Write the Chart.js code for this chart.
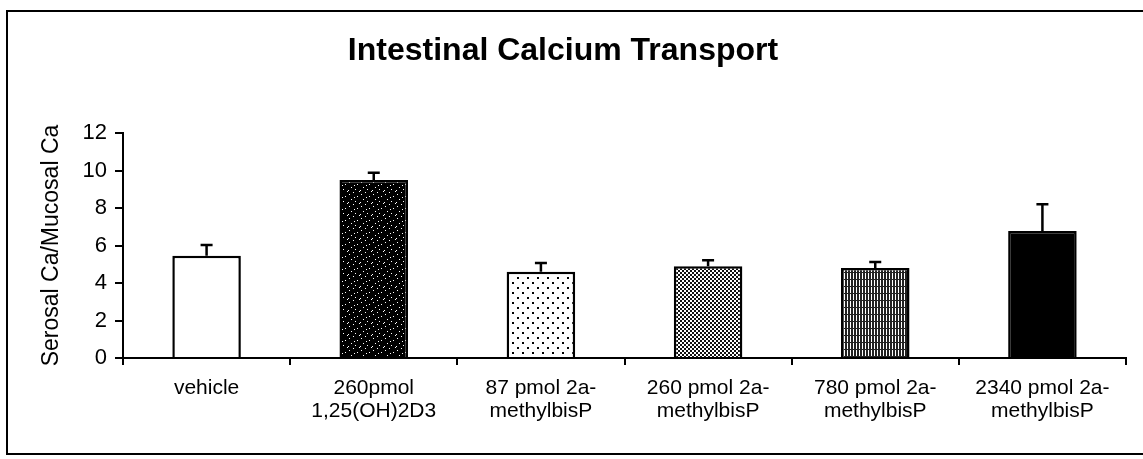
<!DOCTYPE html>
<html>
<head>
<meta charset="utf-8">
<script src="https://cdn.jsdelivr.net/npm/chart.js@4"></script>
<style>
    html, body { margin: 0; padding: 0; background: #fff; }
    #wrap { width: 1143px; height: 459px; }
</style>
</head>
<body>
<div id="wrap"><canvas id="chart"></canvas></div>
<script>
// Data
const categories = [
    ['vehicle'],
    ['260pmol', '1,25(OH)2D3'],
    ['87 pmol 2a-', 'methylbisP'],
    ['260 pmol 2a-', 'methylbisP'],
    ['780 pmol 2a-', 'methylbisP'],
    ['2340 pmol 2a-', 'methylbisP']
];
const transportValues = [5.45, 9.5, 4.6, 4.9, 4.8, 6.77];
const transportErrors = [0.58, 0.38, 0.47, 0.32, 0.32, 1.43];
const yMin = 0;
const yMax = 12;
const yStep = 2;

const FONT = '"Liberation Sans", Arial, Helvetica, sans-serif';
const canvas = document.getElementById('chart');
const mainCtx = canvas.getContext('2d');

function makePattern(w, h, draw) {
    const c = document.createElement('canvas');
    c.width = w;
    c.height = h;
    const g = c.getContext('2d');
    draw(g, w, h);
    return mainCtx.createPattern(c, 'repeat');
}

// speckled black
const speckle = makePattern(12, 12, (g, w, h) => {
    g.fillStyle = '#000';
    g.fillRect(0, 0, w, h);
    g.fillStyle = '#fff';
    [[1, 2], [5, 0], [9, 4], [3, 7], [7, 9], [11, 11], [0, 10], [6, 5]].forEach(p => g.fillRect(p[0], p[1], 1, 1));
});

// sparse dots
const sparseDots = makePattern(10, 10, (g, w, h) => {
    g.fillStyle = '#fff';
    g.fillRect(0, 0, w, h);
    g.fillStyle = '#000';
    g.fillRect(2, 2, 2, 2);
    g.fillRect(7, 7, 2, 2);
});

// fine checker
const fineDots = makePattern(4, 4, (g, w, h) => {
    g.fillStyle = '#fff';
    g.fillRect(0, 0, w, h);
    g.fillStyle = '#111';
    g.fillRect(0, 0, 2, 2);
    g.fillRect(2, 2, 2, 2);
});

// vertical stripes
const stripes = makePattern(3, 7, (g, w, h) => {
    g.fillStyle = '#222';
    g.fillRect(0, 0, w, h);
    g.fillStyle = '#fff';
    g.fillRect(1, 0, 1, 6);
});

const barFills = ['#fff', speckle, sparseDots, fineDots, stripes, '#000'];

const frame = {
    id: 'frame',
    beforeDraw(chart) {
        const ctx = chart.ctx;
        ctx.save();
        ctx.fillStyle = '#fff';
        ctx.fillRect(0, 0, chart.width, chart.height);
        ctx.strokeStyle = '#000';
        ctx.lineWidth = 2;
        ctx.beginPath();
        ctx.moveTo(chart.width, 11);
        ctx.lineTo(7, 11);
        ctx.lineTo(7, 454);
        ctx.lineTo(chart.width, 454);
        ctx.stroke();
        ctx.restore();
    }
};

const errorBars = {
    id: 'errorBars',
    afterDatasetsDraw(chart) {
        const ctx = chart.ctx;
        const y = chart.scales.y;
        const meta = chart.getDatasetMeta(0);
        ctx.save();
        ctx.strokeStyle = '#000';
        ctx.lineWidth = 2.5;
        meta.data.forEach((bar, i) => {
            const top = y.getPixelForValue(transportValues[i] + transportErrors[i]);
            ctx.beginPath();
            ctx.moveTo(bar.x, bar.y);
            ctx.lineTo(bar.x, top);
            ctx.moveTo(bar.x - 6, top);
            ctx.lineTo(bar.x + 6, top);
            ctx.stroke();
        });
        ctx.restore();
    }
};

new Chart(mainCtx, {
    type: 'bar',
    data: {
        labels: categories,
        datasets: [{
            data: transportValues,
            backgroundColor: barFills,
            borderColor: '#000',
            borderWidth: 2.5,
            barPercentage: 0.41,
            categoryPercentage: 1
        }]
    },
    options: {
        responsive: true,
        maintainAspectRatio: false,
        animation: false,
        layout: { padding: { left: 0, right: 17, top: 0, bottom: 0 } },
        plugins: {
            legend: { display: false },
            tooltip: { enabled: false },
            title: {
                display: true,
                text: 'Intestinal Calcium Transport',
                color: '#000',
                font: { family: FONT, size: 32, weight: 'bold', lineHeight: 1.2 },
                padding: { top: 32, bottom: 62.6 }
            }
        },
        scales: {
            x: {
                grid: { display: true, drawOnChartArea: false, offset: true, tickLength: 7, color: '#000', lineWidth: 2 },
                border: { color: '#000', width: 2 },
                ticks: {
                    color: '#000',
                    font: { family: FONT, size: 21, lineHeight: 1.1 },
                    padding: 12,
                    maxRotation: 0,
                    autoSkip: false
                },
                afterFit(scale) { scale.height = 101; }
            },
            y: {
                min: yMin,
                max: yMax,
                grid: { display: true, drawOnChartArea: false, tickLength: 8, color: '#000', lineWidth: 2 },
                border: { color: '#000', width: 2 },
                ticks: {
                    stepSize: yStep,
                    color: '#000',
                    font: { family: FONT, size: 22 },
                    padding: 8
                },
                title: {
                    display: true,
                    text: 'Serosal Ca/Mucosal Ca',
                    color: '#000',
                    font: { family: FONT, size: 23, lineHeight: 1.2 },
                    padding: { top: 38, bottom: 0 }
                },
                afterFit(scale) { scale.width = 123; }
            }
        }
    },
    plugins: [frame, errorBars]
});
</script>
</body>
</html>
